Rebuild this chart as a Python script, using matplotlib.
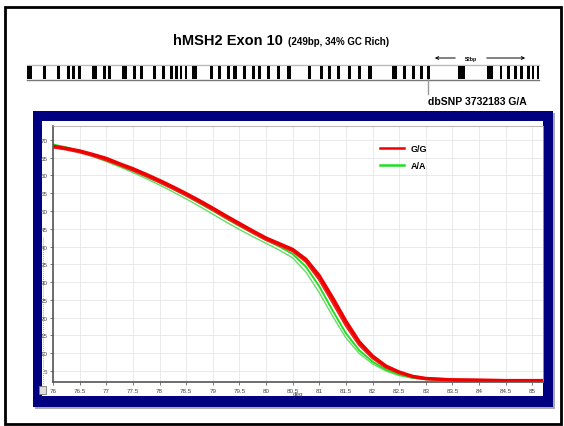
import matplotlib
matplotlib.use("Agg")
import matplotlib.pyplot as plt
from matplotlib.patches import Rectangle

plt.rcParams['font.family'] = ['Liberation Sans', 'DejaVu Sans']

W, H = 564, 427

# melt curve data (temperature, fluorescence)
temps = [76.0, 76.25, 76.5, 76.75, 77.0, 77.25, 77.5, 77.75, 78.0, 78.25, 78.5, 78.75,
         79.0, 79.25, 79.5, 79.75, 80.0, 80.25, 80.5, 80.75, 81.0, 81.25, 81.5, 81.75,
         82.0, 82.25, 82.5, 82.75, 83.0, 83.5, 84.0, 84.5, 85.0, 85.2]
gg_a = [68.2, 67.6, 66.9, 65.9, 64.8, 63.3, 61.9, 60.3, 58.6, 56.8, 54.9, 52.9,
        50.8, 48.6, 46.5, 44.4, 42.4, 40.8, 39.2, 36.4, 31.8, 25.6, 19.0, 13.2,
        9.2, 6.4, 4.7, 3.5, 2.9, 2.5, 2.4, 2.3, 2.3, 2.3]
gg_b = [68.0, 67.4, 66.6, 65.6, 64.4, 63.0, 61.5, 59.9, 58.2, 56.4, 54.5, 52.5,
        50.4, 48.2, 46.1, 44.0, 42.0, 40.4, 38.8, 35.8, 30.8, 24.4, 17.9, 12.4,
        8.7, 6.1, 4.5, 3.4, 2.8, 2.5, 2.4, 2.3, 2.3, 2.3]
aa_a = [68.7, 67.9, 66.9, 65.6, 64.2, 62.8, 61.3, 59.7, 58.0, 56.2, 54.3, 52.2,
        50.1, 47.9, 45.8, 43.8, 41.8, 40.0, 37.9, 34.3, 28.8, 22.0, 15.6, 10.8,
        7.6, 5.4, 4.0, 3.1, 2.7, 2.4, 2.3, 2.3, 2.3, 2.3]
aa_b = [68.6, 67.8, 66.7, 65.3, 63.9, 62.4, 60.8, 59.1, 57.3, 55.4, 53.4, 51.3,
        49.1, 46.9, 44.8, 42.8, 40.9, 39.0, 36.8, 32.8, 27.0, 20.4, 14.3, 9.9,
        7.0, 5.0, 3.7, 3.0, 2.6, 2.4, 2.3, 2.3, 2.3, 2.3]

x_ticks = [76, 76.5, 77, 77.5, 78, 78.5, 79, 79.5, 80, 80.5, 81, 81.5, 82, 82.5,
           83, 83.5, 84, 84.5, 85]
y_ticks = [5, 10, 15, 20, 25, 30, 35, 40, 45, 50, 55, 60, 65, 70]

# GC barcode of the exon (start bp, width bp)
bar_start = [0, 7.8, 14.6, 19.5, 21.9, 24.8, 31.6, 37, 39.4, 46.2, 51.6, 55,
             61.3, 65.7, 69.6, 72, 74.4, 76.8, 80.3, 89, 92.9, 97.3, 100.2, 105,
             109.4, 112.4, 116.7, 121.6, 126.5, 136.7, 142.5, 146.4, 150.8, 156.1,
             161, 165.9, 177.5, 182.9, 187.3, 191.1, 194.6, 209.6, 223.7, 230,
             233.5, 236.9, 239.8, 243.2, 245.6, 248]
bar_width = [2.6, 1.4, 1.3, 1.3, 1.3, 1.3, 2.6, 1.3, 1.6, 2.6, 1.3, 1.3,
             1.6, 1.6, 1.2, 1.2, 1.2, 1.2, 2.6, 1.6, 1.3, 1.3, 2.0, 1.3,
             1.3, 1.3, 1.7, 1.3, 1.7, 1.3, 1.3, 1.3, 1.3, 1.3,
             1.3, 2.0, 2.6, 1.3, 1.3, 1.6, 1.3, 3.5, 3.0, 1.2,
             1.2, 1.2, 1.2, 1.2, 1.2, 1.0]


def px(x0, y0, x1, y1):
    return [x0 / W, 1 - y1 / H, (x1 - x0) / W, (y1 - y0) / H]


fig = plt.figure(figsize=(W / 100, H / 100), dpi=100)

# page layer in pixel coordinates
bg = fig.add_axes([0, 0, 1, 1])
bg.set_xlim(0, W)
bg.set_ylim(H, 0)
bg.axis('off')

bg.add_patch(Rectangle((5, 8), 556, 417, fill=False, edgecolor='black', linewidth=2))

bg.text(287, 41, "hMSH2 Exon 10 ", ha='right', va='center', fontsize=10.5, fontweight='bold')
bg.text(288, 42, "(249bp, 34% GC Rich)", ha='left', va='center', fontsize=7, fontweight='bold')

bg.plot([27, 539], [66, 66], color='#bbbbbb', linewidth=1)
bg.plot([27, 539], [80.5, 80.5], color='#777777', linewidth=1)

# 52bp span marker
bg.annotate("", xy=(432, 59), xytext=(458, 59),
            arrowprops=dict(arrowstyle='->', lw=0.7, color='black', mutation_scale=5))
bg.annotate("", xy=(528, 59), xytext=(484, 59),
            arrowprops=dict(arrowstyle='->', lw=0.7, color='black', mutation_scale=5))
bg.text(471, 59, "52bp", ha='center', va='center', fontsize=3.8, fontweight='bold')

# SNP pointer
bg.plot([428, 428], [80, 95], color='#999999', linewidth=1)
bg.text(428, 102, "dbSNP 3732183 G/A", ha='left', va='center', fontsize=7.5, fontweight='bold')

# navy instrument panel
bg.add_patch(Rectangle((35, 114), 520, 296, facecolor='#aaaaaa', edgecolor='none'))
bg.add_patch(Rectangle((33, 112), 520, 296, facecolor='#000080', edgecolor='none'))
bg.add_patch(Rectangle((42, 122), 501, 275, facecolor='white', edgecolor='none'))
bg.add_patch(Rectangle((39, 387), 7, 8, facecolor='#dddddd', edgecolor='#777777', linewidth=0.6))
bg.plot([42.5, 42.5], [238, 386], color='#888888', linewidth=0.6, linestyle=(0, (1, 1.5)))

# barcode
axb = fig.add_axes(px(27, 67, 539, 80))
axb.bar(bar_start, 1, width=bar_width, align='edge', color='black', linewidth=0)
axb.set_xlim(0, 249)
axb.set_ylim(0, 1)
axb.axis('off')

ax = fig.add_axes(px(53, 127, 543, 383))
ax.plot(temps, aa_b, color='#66dd66', linewidth=1.0)
ax.plot(temps, aa_a, color='#22dd22', linewidth=1.4, label='A/A')
ax.plot(temps, gg_b, color='#ee2222', linewidth=2.2)
ax.plot(temps, gg_a, color='#ee0000', linewidth=2.4, label='G/G')
ax.set_xlim(76, 85.2)
ax.set_ylim(1.9, 73.9)
ax.set_xticks(x_ticks)
ax.set_xticklabels([f"{t:g}" for t in x_ticks])
ax.set_yticks(y_ticks)
ax.tick_params(labelsize=4.5, colors='#444444', length=2, width=0.5, pad=2)
ax.grid(True, color='#e6e6e6', linewidth=0.6)
ax.set_axisbelow(True)
for side in ['top', 'right']:
    ax.spines[side].set_color('#aaaaaa')
    ax.spines[side].set_linewidth(0.6)
for side in ['left', 'bottom']:
    ax.spines[side].set_color('#555555')
    ax.spines[side].set_linewidth(1.2)
ax.set_xlabel("deg", fontsize=4.5, color='#444444', labelpad=-1)

handles, labels = ax.get_legend_handles_labels()
leg = ax.legend(handles[::-1], labels[::-1], loc='upper left',
                bbox_to_anchor=((372 - 53) / 490, 1 - (137 - 127) / 256),
                frameon=False, handlelength=2.6, labelspacing=0.9,
                prop={'weight': 'bold', 'size': 6.5})
for line in leg.get_lines():
    line.set_linewidth(1.8)

fig.savefig("out.png", dpi=100)
